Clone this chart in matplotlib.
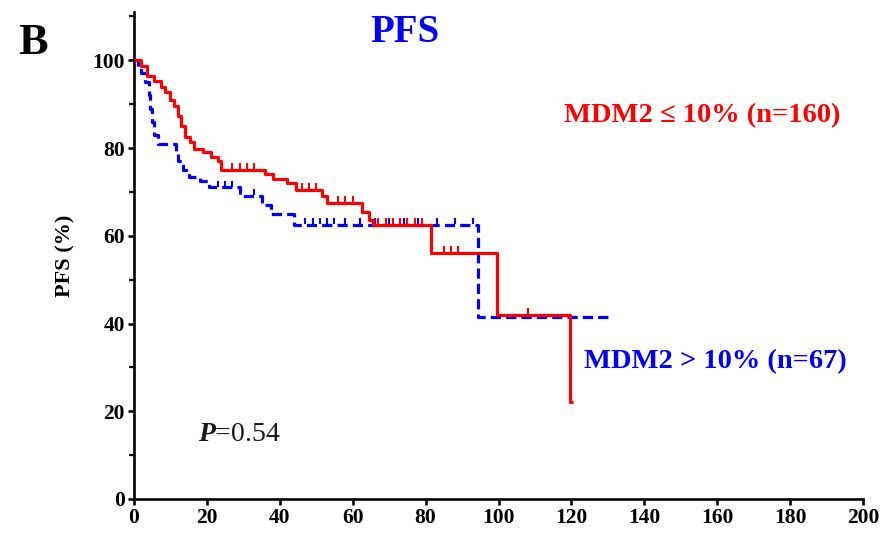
import numpy as np
import matplotlib
matplotlib.use("Agg")
import matplotlib.pyplot as plt

# ---- data ----
red_t = [0, 2, 3.5, 5.5, 7.5, 8.5, 10, 11, 12, 13, 14, 15.5, 16.5, 19, 21, 23, 24,
         36, 38, 42, 44.5, 51.5, 53, 62.5, 64.5, 65.5, 81.5, 99.5, 119.5]
red_s = [100, 98.6, 96.3, 95.2, 94, 92.7, 91, 89.5, 87.2, 85, 82.6, 81.3, 79.7, 79, 78, 77, 75,
         74, 73, 72, 70.5, 69, 67.5, 65.5, 63.5, 62.5, 56, 42, 22]
red_end = 120.5
red_cens = [27, 29, 31, 33, 46, 48, 50, 56, 58, 60, 67, 69, 71, 73, 75, 77, 79, 85, 87, 89, 108]

blue_t = [0, 1, 2, 3, 4, 4.5, 5, 5.5, 6.5, 11.5, 12.2, 13.5, 15, 18, 20.5, 29, 35, 37.5, 44, 94.5]
blue_s = [100, 98.5, 97, 95, 92, 89, 86, 83, 81, 79, 77, 75, 73.5, 72.5, 71, 69, 67, 65, 62.5, 41.5]
blue_end = 130
blue_cens = [23, 25, 27, 33, 47, 49, 51, 53, 55, 58, 62, 66, 70, 74, 78, 83, 88, 93]

red_label = "MDM2 \u2264 10% (n=160)"
blue_label = "MDM2 > 10% (n=67)"
title = "PFS"
ylabel = "PFS (%)"
panel = "B"
pval = "0.54"

x_ticks = list(range(0, 201, 20))
y_ticks = list(range(0, 101, 20))
y_minor = list(range(10, 111, 20))

plt.rcParams['mathtext.fontset'] = 'custom'
plt.rcParams['mathtext.it'] = 'Liberation Serif:italic:bold'
plt.rcParams['mathtext.rm'] = 'Liberation Serif'

SERIF = 'Liberation Serif'

fig = plt.figure(figsize=(8.8, 5.33), dpi=100)
ax = fig.add_axes([134/880, 1 - 499/533, 729/880, 487/533])


def surv_at(ts, ss, t):
    idx = np.searchsorted(ts, t, side='right') - 1
    return ss[idx]


# red curve
rt = list(red_t) + [red_end]
rs = list(red_s) + [red_s[-1]]
ax.step(rt, rs, where='post', color='#ff0000', lw=2.3, solid_capstyle='butt', zorder=3)
ax.plot(red_cens, [surv_at(red_t, red_s, t) + 0.9 for t in red_cens], ls='none',
        marker='|', ms=5, mew=1.5, color='#ff0000', zorder=3)

# blue curve
bt = list(blue_t) + [blue_end]
bs = list(blue_s) + [blue_s[-1]]
bl, = ax.step(bt, bs, where='post', color='#0000ff', lw=2.3, zorder=2)
bl.set_dashes((3.2, 1.6))
ax.plot(blue_cens, [surv_at(blue_t, blue_s, t) + 0.9 for t in blue_cens], ls='none',
        marker='|', ms=5, mew=1.5, color='#0000ff', zorder=2)

ax.set_xlim(0, 200)
ax.set_ylim(0, 111)
ax.set_xticks(x_ticks)
ax.set_yticks(y_ticks)
ax.set_yticks(y_minor, minor=True)
for s in ['top', 'right']:
    ax.spines[s].set_visible(False)
for s in ['left', 'bottom']:
    ax.spines[s].set_linewidth(1.9)
    ax.spines[s].set_color('black')
ax.tick_params(axis='both', which='major', direction='out', length=4.5, width=1.9, pad=2)
ax.tick_params(axis='y', which='minor', direction='out', length=3.5, width=1.6)
for lab in ax.get_xticklabels() + ax.get_yticklabels():
    lab.set_fontfamily(SERIF)
    lab.set_fontweight('bold')
    lab.set_fontsize(15.5)

ax.set_ylabel(ylabel, fontfamily=SERIF, fontweight='bold', fontsize=16, labelpad=12)

ax.text(156, 87.4, red_label, color='#ff0000', fontfamily=SERIF, fontweight='bold',
        fontsize=20.5, ha='center', va='center')
ax.text(159.5, 31.3, blue_label, color='#0000ff', fontfamily=SERIF, fontweight='bold',
        fontsize=20.5, ha='center', va='center')
ax.text(17.5, 14.6, r"$\mathit{P}$=" + pval, color='#1a1a1a', fontfamily=SERIF,
        fontsize=20, ha='left', va='center')

fig.text(405/880, 1 - 32/533, title, color='#0000ff', fontfamily=SERIF, fontweight='bold',
         fontsize=28, ha='center', va='center')
fig.text(33/880, 1 - 43/533, panel, color='black', fontfamily=SERIF, fontweight='bold',
         fontsize=32, ha='center', va='center')

fig.savefig('out.png', dpi=100)
